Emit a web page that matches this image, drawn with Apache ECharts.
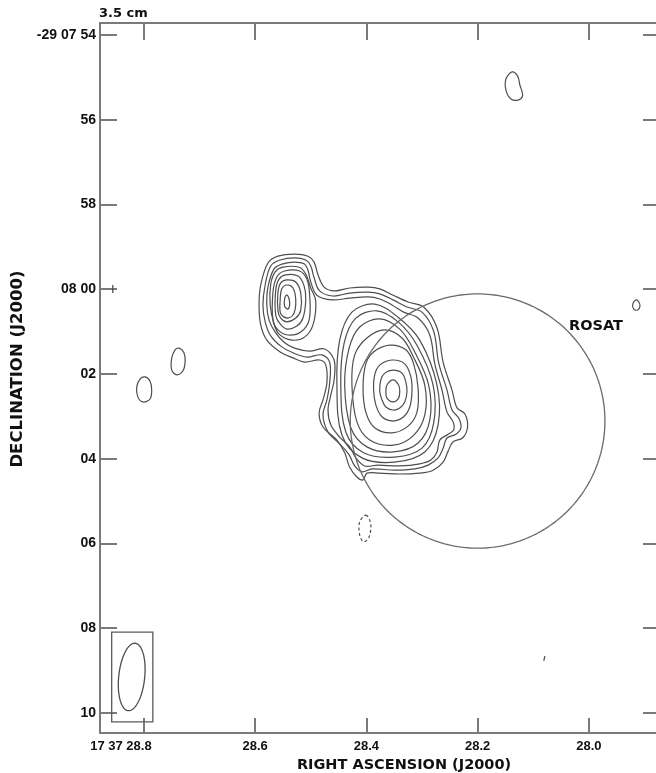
<!DOCTYPE html>
<html><head><meta charset="utf-8">
<script src="https://cdn.jsdelivr.net/npm/echarts@6/dist/echarts.min.js"></script>
<style>html,body{margin:0;padding:0;background:#fff}#c{width:656px;height:773px}</style>
</head><body><div id="c"></div>
<script>
// Axes: RA in seconds of 17h37m, Dec in arcsec offset south of -29 07 00
const RA_TICKS = [28.0, 28.2, 28.4, 28.6, 28.8];
const RA_LABELS = ['28.0', '28.2', '28.4', '28.6', '17 37 28.8'];
const DEC_TICKS = [54, 56, 58, 60, 62, 64, 66, 68, 70];
const DEC_LABELS = ['-29 07 54', '56', '58', '08 00', '02', '04', '06', '08', '10'];
const RA_RANGE = [27.872, 28.879];
const DEC_RANGE = [53.717, 70.472];

// Contours enclosing both components (lowest levels)
const CONTOUR_COMMON_1 = [[28.577,59.38],[28.559,59.22],[28.529,59.17],[28.505,59.22],[28.494,59.36],[28.487,59.66],[28.476,59.95],[28.457,60.04],[28.430,59.97],[28.397,59.95],[28.376,59.99],[28.352,60.14],[28.325,60.30],[28.297,60.42],[28.273,60.91],[28.262,61.72],[28.246,62.38],[28.237,62.80],[28.223,62.94],[28.218,63.25],[28.227,63.51],[28.244,63.60],[28.253,63.82],[28.262,64.08],[28.280,64.27],[28.304,64.34],[28.340,64.36],[28.376,64.34],[28.399,64.34],[28.406,64.50],[28.417,64.43],[28.430,64.20],[28.439,63.86],[28.453,63.56],[28.478,63.25],[28.485,62.92],[28.478,62.61],[28.471,62.21],[28.473,61.79],[28.484,61.67],[28.511,61.72],[28.532,61.62],[28.555,61.48],[28.579,61.20],[28.590,60.84],[28.593,60.37],[28.590,59.90]];
const CONTOUR_COMMON_2 = [[28.572,59.45],[28.555,59.31],[28.529,59.26],[28.509,59.31],[28.500,59.45],[28.494,59.73],[28.484,60.04],[28.460,60.16],[28.430,60.09],[28.397,60.07],[28.376,60.11],[28.352,60.25],[28.327,60.42],[28.300,60.54],[28.279,60.99],[28.270,61.74],[28.255,62.38],[28.246,62.85],[28.234,63.04],[28.230,63.27],[28.239,63.42],[28.255,63.51],[28.262,63.75],[28.271,63.98],[28.289,64.15],[28.313,64.24],[28.349,64.27],[28.390,64.24],[28.408,64.31],[28.421,64.17],[28.431,63.91],[28.448,63.65],[28.469,63.37],[28.478,62.97],[28.471,62.61],[28.466,62.21],[28.466,61.72],[28.480,61.55],[28.507,61.60],[28.532,61.50],[28.552,61.36],[28.572,61.10],[28.582,60.77],[28.586,60.37],[28.582,59.90]];
const CONTOUR_COMMON_3 = [[28.566,59.52],[28.550,59.40],[28.529,59.36],[28.512,59.40],[28.505,59.55],[28.500,59.83],[28.489,60.14],[28.462,60.25],[28.430,60.21],[28.397,60.18],[28.376,60.23],[28.354,60.37],[28.333,60.54],[28.307,60.68],[28.286,61.08],[28.277,61.76],[28.264,62.38],[28.255,62.90],[28.244,63.13],[28.243,63.32],[28.253,63.42],[28.268,63.56],[28.273,63.84],[28.284,64.03],[28.304,64.12],[28.340,64.17],[28.379,64.15],[28.403,64.17],[28.419,63.98],[28.430,63.72],[28.448,63.49],[28.464,63.20],[28.469,62.85],[28.464,62.50],[28.458,62.14],[28.458,61.67],[28.475,61.41],[28.502,61.46],[28.529,61.39],[28.548,61.25],[28.564,61.01],[28.575,60.73],[28.579,60.37],[28.577,59.95]];

// North-west component
const CONTOUR_NW_1 = [[28.543,60.14],[28.539,60.23],[28.538,60.37],[28.541,60.47],[28.547,60.40],[28.547,60.23]];
const CONTOUR_NW_2 = [[28.543,59.90],[28.532,59.97],[28.527,60.25],[28.530,60.56],[28.541,60.68],[28.554,60.58],[28.555,60.25],[28.552,59.99]];
const CONTOUR_NW_3 = [[28.543,59.78],[28.527,59.83],[28.518,60.09],[28.518,60.49],[28.527,60.68],[28.543,60.77],[28.554,60.68],[28.559,60.51],[28.559,60.07],[28.554,59.85]];
const CONTOUR_NW_4 = [[28.545,59.66],[28.523,59.69],[28.512,59.92],[28.509,60.25],[28.514,60.68],[28.525,60.87],[28.543,60.94],[28.555,60.82],[28.563,60.61],[28.563,60.02],[28.557,59.76]];
const CONTOUR_NW_5 = [[28.547,59.57],[28.520,59.57],[28.507,59.76],[28.502,60.14],[28.503,60.73],[28.518,61.01],[28.541,61.08],[28.559,60.96],[28.568,60.73],[28.568,60.07],[28.561,59.71]];
const CONTOUR_NW_6 = [[28.550,59.48],[28.521,59.48],[28.509,59.64],[28.500,59.97],[28.491,60.28],[28.496,60.84],[28.511,61.13],[28.534,61.20],[28.557,61.06],[28.566,60.82],[28.573,60.37],[28.572,59.88],[28.564,59.59]];

// Main component
const CONTOUR_MAIN_1 = [[28.352,62.14],[28.342,62.26],[28.340,62.40],[28.342,62.57],[28.352,62.66],[28.363,62.57],[28.365,62.40],[28.363,62.26]];
const CONTOUR_MAIN_2 = [[28.367,61.98],[28.352,61.91],[28.336,61.98],[28.329,62.19],[28.327,62.42],[28.331,62.66],[28.340,62.80],[28.352,62.85],[28.365,62.78],[28.372,62.61],[28.376,62.40],[28.374,62.14]];
const CONTOUR_MAIN_3 = [[28.376,61.79],[28.354,61.67],[28.331,61.76],[28.320,62.07],[28.318,62.42],[28.322,62.78],[28.333,63.01],[28.352,63.11],[28.372,63.01],[28.383,62.73],[28.387,62.38],[28.385,62.02]];
const CONTOUR_MAIN_4 = [[28.387,61.48],[28.358,61.32],[28.329,61.43],[28.315,61.76],[28.307,62.33],[28.309,62.90],[28.325,63.23],[28.354,63.39],[28.385,63.27],[28.401,62.90],[28.406,62.33],[28.401,61.76]];
const CONTOUR_MAIN_5 = [[28.399,61.15],[28.367,60.96],[28.336,61.15],[28.316,61.58],[28.295,62.26],[28.295,62.97],[28.316,63.46],[28.352,63.68],[28.394,63.56],[28.417,63.13],[28.426,62.26],[28.421,61.55]];
const CONTOUR_MAIN_6 = [[28.412,60.89],[28.376,60.70],[28.340,60.94],[28.315,61.43],[28.288,62.26],[28.286,63.09],[28.307,63.63],[28.351,63.84],[28.399,63.72],[28.428,63.27],[28.439,62.26],[28.431,61.39]];
const CONTOUR_MAIN_7 = [[28.419,60.68],[28.381,60.51],[28.343,60.77],[28.309,61.32],[28.280,62.26],[28.279,63.16],[28.300,63.75],[28.349,63.96],[28.405,63.86],[28.437,63.37],[28.446,62.26],[28.440,61.27]];
const CONTOUR_MAIN_8 = [[28.426,60.54],[28.385,60.35],[28.343,60.66],[28.304,61.20],[28.273,62.26],[28.271,63.20],[28.295,63.84],[28.349,64.08],[28.408,63.98],[28.444,63.44],[28.453,62.26],[28.448,61.20]];

// Isolated faint features
const BLOB_NE = [[28.138,54.87],[28.128,54.97],[28.124,55.18],[28.119,55.42],[28.126,55.53],[28.140,55.51],[28.149,55.30],[28.149,55.04]];
const BLOB_W1 = [[28.737,61.39],[28.728,61.50],[28.726,61.72],[28.730,61.93],[28.741,62.02],[28.750,61.91],[28.750,61.62],[28.744,61.43]];
const BLOB_W2 = [[28.798,62.07],[28.789,62.17],[28.786,62.38],[28.789,62.59],[28.802,62.66],[28.811,62.54],[28.813,62.31],[28.807,62.12]];
const BLOB_E = [[27.915,60.25],[27.910,60.30],[27.908,60.40],[27.912,60.49],[27.919,60.47],[27.921,60.35]];
const NEGATIVE_CONTOUR = [[28.401,65.33],[28.394,65.45],[28.392,65.63],[28.396,65.87],[28.405,65.96],[28.412,65.80],[28.412,65.49]];
const SMALL_SEGMENTS = [[28.079,68.66,28.081,68.77],[28.856,59.90,28.856,60.09]];

// ROSAT error circle: centre RA s, centre Dec offset, radius arcsec
const ROSAT_CIRCLE = [28.20, 63.11, 3.0];
const ROSAT_LABEL_AT = [27.987, 60.87];
// Beam: centre RA, centre Dec, semi-major ", semi-minor ", position angle deg
const BEAM = [28.822, 69.15, 0.80, 0.306, -6];
const BEAM_BOX = [28.858, 68.09, 28.784, 70.21];

const POS_CONTOURS = [CONTOUR_COMMON_1, CONTOUR_COMMON_2, CONTOUR_COMMON_3,
  CONTOUR_NW_1, CONTOUR_NW_2, CONTOUR_NW_3, CONTOUR_NW_4, CONTOUR_NW_5, CONTOUR_NW_6,
  CONTOUR_MAIN_1, CONTOUR_MAIN_2, CONTOUR_MAIN_3, CONTOUR_MAIN_4, CONTOUR_MAIN_5, CONTOUR_MAIN_6, CONTOUR_MAIN_7, CONTOUR_MAIN_8,
  BLOB_NE, BLOB_W1, BLOB_W2, BLOB_E];
const NEG_CONTOURS = [NEGATIVE_CONTOUR];

const DEC_BASE_DEG = 29 + 7 / 60;
function secPerArcsec(decOff) { return 1 / (15 * Math.cos((DEC_BASE_DEG + decOff / 3600) * Math.PI / 180)); }

const LINE_COLOR = '#4e4e4e';
const AXIS_COLOR = '#7a7a7a';
const TICK_FONT = { fontFamily: 'Liberation Sans', fontWeight: 'bold', fontSize: 13, color: '#111' };
const TICK_FONT_Y = { fontFamily: 'Liberation Sans', fontWeight: 'bold', fontSize: 14, color: '#111' };
const TITLE_FONT = { fontFamily: 'DejaVu Sans', fontWeight: 'bold', color: '#111' };

function contourSeries(list, dashed) {
  return {
    type: 'custom', coordinateSystem: 'cartesian2d', silent: true, animation: false,
    data: list.map(c => c[0]), encode: { x: 0, y: 1 },
    renderItem: (p, api) => ({
      type: 'polygon',
      shape: { points: list[p.dataIndex].map(q => api.coord(q)), smooth: 0.35 },
      style: { fill: 'none', stroke: LINE_COLOR, lineWidth: 1.2, lineDash: dashed ? [3, 2.5] : null }
    })
  };
}

function labelLookup(ticks, labels) {
  return v => { for (let i = 0; i < ticks.length; i++) if (Math.abs(ticks[i] - v) < 1e-6) return labels[i]; return ''; };
}
const raLab = labelLookup(RA_TICKS, RA_LABELS);
const decLab = labelLookup(DEC_TICKS, DEC_LABELS);

const chart = echarts.init(document.getElementById('c'), null, { renderer: 'canvas' });
chart.setOption({
  animation: false,
  backgroundColor: '#fff',
  title: { text: '3.5 cm', left: 99, top: 7, padding: 0, textStyle: Object.assign({ fontSize: 13 }, TITLE_FONT) },
  grid: { left: 100, right: -4, top: 23, bottom: 40, containLabel: false, outerBoundsMode: 'none' },
  xAxis: [{
    type: 'value', position: 'bottom', min: RA_RANGE[0], max: RA_RANGE[1], inverse: true,
    axisLine: { show: true, onZero: false, lineStyle: { color: AXIS_COLOR, width: 2 } },
    axisTick: { show: true, inside: true, length: 15, customValues: RA_TICKS, lineStyle: { color: AXIS_COLOR, width: 2 } },
    axisLabel: Object.assign({ customValues: RA_TICKS, margin: 7,
      formatter: v => { const s = raLab(v); return s.length > 5 ? '{t|' + s + '}{p|}' : s; },
      rich: { t: Object.assign({}, TICK_FONT), p: { width: 46 } } }, TICK_FONT),
    splitLine: { show: false },
    name: 'RIGHT ASCENSION (J2000)', nameLocation: 'middle', nameGap: 21,
    nameTextStyle: Object.assign({ fontSize: 14.5, padding: [0, 0, 0, 48] }, TITLE_FONT)
  }, {
    type: 'value', position: 'top', min: RA_RANGE[0], max: RA_RANGE[1], inverse: true,
    axisLine: { show: true, onZero: false, lineStyle: { color: AXIS_COLOR, width: 2 } },
    axisTick: { show: true, inside: true, length: 17, customValues: RA_TICKS, lineStyle: { color: AXIS_COLOR, width: 2 } },
    axisLabel: { show: false }, splitLine: { show: false }
  }],
  yAxis: [{
    type: 'value', position: 'left', min: DEC_RANGE[0], max: DEC_RANGE[1], inverse: true,
    axisLine: { show: true, onZero: false, lineStyle: { color: AXIS_COLOR, width: 2 } },
    axisTick: { show: true, inside: true, length: 17, customValues: DEC_TICKS, lineStyle: { color: AXIS_COLOR, width: 2 } },
    axisLabel: Object.assign({ customValues: DEC_TICKS, margin: 4, formatter: v => decLab(v) }, TICK_FONT_Y),
    splitLine: { show: false },
    name: 'DECLINATION (J2000)', nameLocation: 'middle', nameRotate: 90, nameGap: 65,
    nameTextStyle: Object.assign({ fontSize: 16.5, padding: [0, 0, 0, 18] }, TITLE_FONT)
  }, {
    type: 'value', position: 'right', min: DEC_RANGE[0], max: DEC_RANGE[1], inverse: true,
    axisLine: { show: true, onZero: false, lineStyle: { color: AXIS_COLOR, width: 2 } },
    axisTick: { show: true, inside: true, length: 17, customValues: DEC_TICKS, lineStyle: { color: AXIS_COLOR, width: 2 } },
    axisLabel: { show: false }, splitLine: { show: false }
  }],
  series: [
    contourSeries(POS_CONTOURS, false),
    contourSeries(NEG_CONTOURS, true),
    {
      type: 'custom', coordinateSystem: 'cartesian2d', silent: true, animation: false,
      data: SMALL_SEGMENTS, encode: { x: 0, y: 1 },
      renderItem: (p, api) => {
        const a = api.coord([api.value(0), api.value(1)]), b = api.coord([api.value(2), api.value(3)]);
        return { type: 'line', shape: { x1: a[0], y1: a[1], x2: b[0], y2: b[1] }, style: { stroke: LINE_COLOR, lineWidth: 1.3 } };
      }
    },
    {
      type: 'custom', coordinateSystem: 'cartesian2d', silent: true, animation: false,
      data: [ROSAT_CIRCLE], encode: { x: 0, y: 1 },
      renderItem: (p, api) => {
        const ra0 = api.value(0), dec0 = api.value(1), r = api.value(2);
        const k = secPerArcsec(dec0), pts = [];
        for (let i = 0; i < 240; i++) {
          const t = i / 240 * 2 * Math.PI;
          pts.push(api.coord([ra0 + r * k * Math.cos(t), dec0 + r * Math.sin(t)]));
        }
        return { type: 'polygon', shape: { points: pts }, style: { fill: 'none', stroke: '#6a6a6a', lineWidth: 1.3 } };
      }
    },
    {
      type: 'custom', coordinateSystem: 'cartesian2d', silent: true, animation: false,
      data: [ROSAT_LABEL_AT], encode: { x: 0, y: 1 },
      renderItem: (p, api) => {
        const c = api.coord([api.value(0), api.value(1)]);
        return { type: 'text', x: c[0], y: c[1], style: { text: 'ROSAT', font: 'bold 14.5px "DejaVu Sans"', fill: '#111', align: 'center', verticalAlign: 'middle' } };
      }
    },
    {
      type: 'custom', coordinateSystem: 'cartesian2d', silent: true, animation: false,
      data: [BEAM], encode: { x: 0, y: 1 },
      renderItem: (p, api) => {
        const ra0 = api.value(0), dec0 = api.value(1), a = api.value(2), b = api.value(3);
        const th = -api.value(4) * Math.PI / 180, k = secPerArcsec(dec0), pts = [];
        for (let i = 0; i < 120; i++) {
          const t = i / 120 * 2 * Math.PI;
          const dx = a * Math.cos(t) * Math.sin(th) + b * Math.sin(t) * Math.cos(th);
          const dy = -a * Math.cos(t) * Math.cos(th) + b * Math.sin(t) * Math.sin(th);
          pts.push(api.coord([ra0 - dx * k, dec0 + dy]));
        }
        return { type: 'polygon', shape: { points: pts }, style: { fill: 'none', stroke: LINE_COLOR, lineWidth: 1.3 } };
      }
    },
    {
      type: 'custom', coordinateSystem: 'cartesian2d', silent: true, animation: false,
      data: [BEAM_BOX], encode: { x: 0, y: 1 },
      renderItem: (p, api) => {
        const a = api.coord([api.value(0), api.value(1)]), b = api.coord([api.value(2), api.value(3)]);
        return { type: 'rect', shape: { x: Math.min(a[0], b[0]), y: Math.min(a[1], b[1]), width: Math.abs(b[0] - a[0]), height: Math.abs(b[1] - a[1]) },
          style: { fill: 'none', stroke: '#5a5a5a', lineWidth: 1.3 } };
      }
    }
  ]
});
</script>
</body></html>
